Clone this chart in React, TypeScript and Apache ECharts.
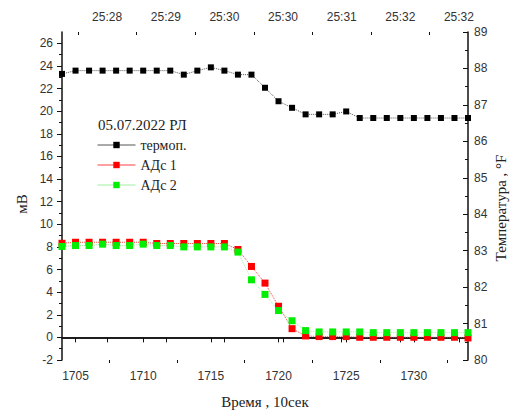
import React, { useEffect, useRef } from "react";
import * as echarts from "echarts";

// time steps (×10 s)
const timeSteps = [
  1704, 1705, 1706, 1707, 1708, 1709, 1710, 1711, 1712, 1713, 1714, 1715, 1716,
  1717, 1718, 1719, 1720, 1721, 1722, 1723, 1724, 1725, 1726, 1727, 1728, 1729,
  1730, 1731, 1732, 1733, 1734,
];

// thermocouple temperature, °F (right axis)
const thermoF = [
  87.85, 87.94, 87.94, 87.94, 87.94, 87.94, 87.94, 87.94, 87.94, 87.83, 87.94,
  88.03, 87.94, 87.83, 87.83, 87.47, 87.1, 86.92, 86.74, 86.74, 86.74, 86.82,
  86.64, 86.64, 86.64, 86.64, 86.64, 86.64, 86.64, 86.64, 86.64,
];

// АДс 1, mV (left axis)
const ads1 = [
  8.32, 8.41, 8.41, 8.41, 8.41, 8.41, 8.41, 8.3, 8.3, 8.3, 8.3, 8.3, 8.3, 7.77,
  6.27, 4.8, 2.75, 0.77, 0.13, 0.07, 0.07, 0.07, 0.01, 0.01, 0.01, 0.01, 0.01,
  0.01, 0.01, 0.01, -0.05,
];

// АДс 2, mV (left axis)
const ads2 = [
  8.04, 8.12, 8.12, 8.24, 8.12, 8.12, 8.24, 8.12, 8.12, 8.0, 8.0, 8.0, 8.0, 7.54,
  5.09, 3.8, 2.37, 1.47, 0.6, 0.48, 0.48, 0.48, 0.48, 0.42, 0.42, 0.42, 0.42,
  0.42, 0.42, 0.42, 0.42,
];

const seriesNames = ["термоп.", "АДс 1", "АДс 2"];

// bottom axis ticks
const bottomMajor = [1705, 1710, 1715, 1720, 1725, 1730];
const bottomMinor = [1707.5, 1712.5, 1717.5, 1722.5, 1727.5, 1732.5];

// top (clock time) axis ticks, in the same time-step units
const topMajor = [1707.33, 1711.67, 1716, 1720.33, 1724.67, 1729, 1733.33];
const topMinor = [1705.17, 1709.5, 1713.83, 1718.17, 1722.5, 1726.83, 1731.17];
const topLabels = ["25:28", "25:29", "25:30", "25:30", "25:31", "25:32", "25:32"];

// left axis (mV) ticks
const leftMajor = [-2, 0, 2, 4, 6, 8, 10, 12, 14, 16, 18, 20, 22, 24, 26];
const leftMinor = [-1, 1, 3, 5, 7, 9, 11, 13, 15, 17, 19, 21, 23, 25];

// right axis (°F) ticks
const rightMajor = [80, 81, 82, 83, 84, 85, 86, 87, 88, 89];
const rightMinor = [80.5, 81.5, 82.5, 83.5, 84.5, 85.5, 86.5, 87.5, 88.5];

const legendTitle = "05.07.2022 РЛ";
const xName = "Время , 10сек";
const yLeftName = "мВ";
const yRightName = "Температура , °F";

const SANS = "Liberation Sans";
const SERIF = "Liberation Serif";

export default function App() {
  const ref = useRef<HTMLDivElement>(null);

  useEffect(() => {
    if (!ref.current) return;
    const chart = echarts.init(ref.current, undefined, { renderer: "svg" });

    const axisLine = { show: true, lineStyle: { color: "#111", width: 1.5 } };
    const labelStyle = { fontFamily: SANS, fontSize: 12, color: "#333" };
    const hidden = { show: false };
    const tickLine = { color: "#111", width: 1 };

    const pairs = (vals: number[]) => timeSteps.map((t, i) => [t, vals[i]]);

    const minorAxis = (
      position: string,
      min: number,
      max: number,
      values: number[],
      inside: boolean
    ) => ({
      type: "value",
      gridIndex: 0,
      position,
      min,
      max,
      axisLine: { show: false },
      splitLine: hidden,
      axisLabel: {
        show: true,
        customValues: values,
        formatter: () => "",
        fontSize: 1,
      },
      axisTick: {
        show: true,
        inside,
        length: 3,
        customValues: values,
        lineStyle: tickLine,
      },
    });

    chart.setOption({
      animation: false,
      backgroundColor: "#ffffff",
      grid: { left: 62, right: 44, top: 32, bottom: 51, containLabel: false },
      xAxis: [
        {
          type: "value",
          gridIndex: 0,
          position: "bottom",
          min: 1704,
          max: 1734,
          axisLine,
          splitLine: hidden,
          axisTick: {
            show: true,
            inside: false,
            length: 5,
            customValues: bottomMajor,
            lineStyle: tickLine,
          },
          axisLabel: {
            ...labelStyle,
            margin: 10,
            customValues: bottomMajor,
            formatter: (v: number) => String(v),
          },
          name: xName,
          nameLocation: "middle",
          nameGap: 34,
          nameTextStyle: { fontFamily: SERIF, fontSize: 15, color: "#222" },
        },
        {
          type: "value",
          gridIndex: 0,
          position: "top",
          min: 1704,
          max: 1734,
          axisLine,
          splitLine: hidden,
          axisTick: {
            show: true,
            inside: true,
            length: 5,
            customValues: topMajor,
            lineStyle: tickLine,
          },
          axisLabel: {
            ...labelStyle,
            margin: 9,
            customValues: topMajor,
            formatter: (v: number) => {
              const i = topMajor.findIndex((x) => Math.abs(x - v) < 1e-6);
              return i >= 0 ? topLabels[i] : "";
            },
          },
        },
        minorAxis("bottom", 1704, 1734, bottomMinor, false),
        minorAxis("top", 1704, 1734, topMinor, true),
      ],
      yAxis: [
        {
          type: "value",
          gridIndex: 0,
          position: "left",
          min: -2,
          max: 27,
          axisLine,
          splitLine: hidden,
          axisTick: {
            show: true,
            inside: false,
            length: 5,
            customValues: leftMajor,
            lineStyle: tickLine,
          },
          axisLabel: {
            ...labelStyle,
            margin: 9,
            customValues: leftMajor,
            showMinLabel: true,
            formatter: (v: number) => String(v),
          },
        },
        {
          type: "value",
          gridIndex: 0,
          position: "right",
          min: 80,
          max: 89,
          axisLine,
          splitLine: hidden,
          axisTick: {
            show: true,
            inside: true,
            length: 5,
            customValues: rightMajor,
            lineStyle: tickLine,
          },
          axisLabel: {
            ...labelStyle,
            margin: 6,
            customValues: rightMajor,
            showMinLabel: true,
            showMaxLabel: true,
            formatter: (v: number) => String(v),
          },
        },
        minorAxis("left", -2, 27, leftMinor, false),
        minorAxis("right", 80, 89, rightMinor, true),
      ],
      legend: {
        data: seriesNames,
        orient: "vertical",
        left: 97,
        top: 138,
        padding: 0,
        itemWidth: 38,
        itemHeight: 8,
        itemGap: 6,
        lineStyle: { type: "solid", width: 1 },
        textStyle: { fontFamily: SERIF, fontSize: 14, color: "#222" },
      },
      graphic: [
        {
          type: "text",
          left: 98,
          top: 117,
          style: {
            text: legendTitle,
            fontFamily: SERIF,
            fontSize: 15,
            fill: "#222",
          },
        },
        {
          type: "text",
          x: 22,
          y: 204,
          rotation: Math.PI / 2,
          style: {
            text: yLeftName,
            fontFamily: SERIF,
            fontSize: 15,
            fill: "#222",
            align: "center",
            verticalAlign: "middle",
          },
        },
        {
          type: "text",
          x: 501,
          y: 208,
          rotation: Math.PI / 2,
          style: {
            text: yRightName,
            fontFamily: SERIF,
            fontSize: 15,
            fill: "#222",
            align: "center",
            verticalAlign: "middle",
          },
        },
      ],
      series: [
        {
          name: seriesNames[0],
          type: "line",
          xAxisIndex: 0,
          yAxisIndex: 1,
          data: pairs(thermoF),
          symbol: "rect",
          symbolSize: 6,
          itemStyle: { color: "#000000" },
          lineStyle: { color: "#555", width: 1, type: "dotted" },
          z: 3,
        },
        {
          name: seriesNames[1],
          type: "line",
          xAxisIndex: 0,
          yAxisIndex: 0,
          data: pairs(ads1),
          symbol: "rect",
          symbolSize: 7,
          itemStyle: { color: "#ff0000" },
          lineStyle: { color: "#ff4040", width: 1, type: "dotted" },
          z: 2,
        },
        {
          name: seriesNames[2],
          type: "line",
          xAxisIndex: 0,
          yAxisIndex: 0,
          data: pairs(ads2),
          symbol: "rect",
          symbolSize: 7,
          itemStyle: { color: "#00ee00" },
          lineStyle: { color: "#a0f0a0", width: 1, type: "dotted" },
          z: 2,
        },
      ],
    });

    return () => chart.dispose();
  }, []);

  return (
    <div
      ref={ref}
      style={{ position: "fixed", left: 0, top: 0, width: 512, height: 414 }}
    />
  );
}
